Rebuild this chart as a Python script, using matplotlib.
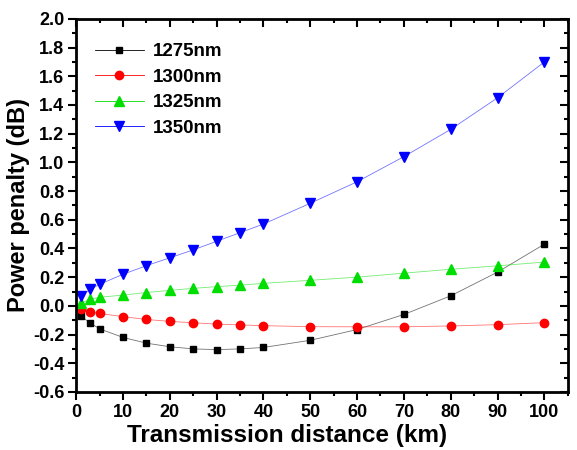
import numpy as np
import matplotlib.pyplot as plt
from matplotlib.ticker import MultipleLocator

plt.rcParams['font.family'] = ['Liberation Sans', 'DejaVu Sans']
plt.rcParams['font.weight'] = 'bold'

# distances (km)
dist = [1, 3, 5, 10, 15, 20, 25, 30, 35, 40, 50, 60, 70, 80, 90, 100]

# power penalty (dB) per wavelength
p1275 = [-0.07, -0.12, -0.16, -0.22, -0.26, -0.285, -0.30, -0.305, -0.30, -0.29,
         -0.24, -0.165, -0.06, 0.07, 0.235, 0.43]
p1300 = [-0.02, -0.04, -0.053, -0.075, -0.095, -0.108, -0.118, -0.127, -0.133, -0.138,
         -0.145, -0.146, -0.146, -0.14, -0.131, -0.117]
p1325 = [0.02, 0.045, 0.06, 0.075, 0.093, 0.108, 0.122, 0.134, 0.144, 0.157,
         0.178, 0.2, 0.228, 0.255, 0.279, 0.305]
p1350 = [0.07, 0.115, 0.15, 0.22, 0.28, 0.335, 0.39, 0.45, 0.51, 0.57,
         0.715, 0.865, 1.04, 1.23, 1.45, 1.70]

series = [
    ('1275nm', p1275, 'black', 's', 5),
    ('1300nm', p1300, 'red', 'o', 6),
    ('1325nm', p1325, '#00dd00', '^', 6.5),
    ('1350nm', p1350, 'blue', 'v', 6.5),
]

fig = plt.figure(figsize=(5.77, 4.5), dpi=100)
ax = fig.add_axes([0.132, 0.129, 0.852, 0.829])

for name, vals, col, mk, ms in series:
    ax.plot(dist, vals, color=col, lw=0.6, alpha=0.55)
    ax.plot(dist, vals, ls='none', marker=mk, ms=ms, color=col)
    # legend proxy
    ax.plot([], [], color=col, lw=0.6, marker=mk, ms=ms, mfc=col, mec=col,
            label=name)

ax.set_xlim(0, 105)
ax.set_ylim(-0.6, 2.0)
ax.xaxis.set_major_locator(MultipleLocator(10))
ax.xaxis.set_minor_locator(MultipleLocator(5))
ax.yaxis.set_major_locator(MultipleLocator(0.2))
ax.yaxis.set_minor_locator(MultipleLocator(0.1))
ax.set_xticks(np.arange(0, 101, 10))
ax.set_yticklabels([f'{v:.1f}' for v in ax.get_yticks()])

ax.tick_params(which='major', direction='out', length=6, width=1.5, labelsize=13, pad=2.5)
ax.tick_params(which='minor', direction='out', length=3, width=1.5)
for s in ax.spines.values():
    s.set_linewidth(2)

top = ax.secondary_xaxis('top')
top.xaxis.set_major_locator(MultipleLocator(10))
top.xaxis.set_minor_locator(MultipleLocator(5))
top.tick_params(which='major', direction='in', length=6, width=1.5, labeltop=False)
top.tick_params(which='minor', direction='in', length=3, width=1.5)
right = ax.secondary_yaxis('right')
right.yaxis.set_major_locator(MultipleLocator(0.2))
right.yaxis.set_minor_locator(MultipleLocator(0.1))
right.tick_params(which='major', direction='in', length=6, width=1.5, labelright=False)
right.tick_params(which='minor', direction='in', length=3, width=1.5)

ax.set_xlabel('Transmission distance (km)', fontsize=17.5, fontweight='bold')
ax.xaxis.set_label_coords(0.43, -0.085, transform=ax.transAxes)
ax.xaxis.label.set_va('top')
ax.set_ylabel('Power penalty (dB)', fontsize=17, fontweight='bold', labelpad=2)

ax.legend(loc='upper left', frameon=False, fontsize=13.5, handlelength=2.6,
          handletextpad=0.5, labelspacing=0.45, borderaxespad=0.6,
          bbox_to_anchor=(0.0, 0.985))

fig.savefig('out.png', dpi=100)
